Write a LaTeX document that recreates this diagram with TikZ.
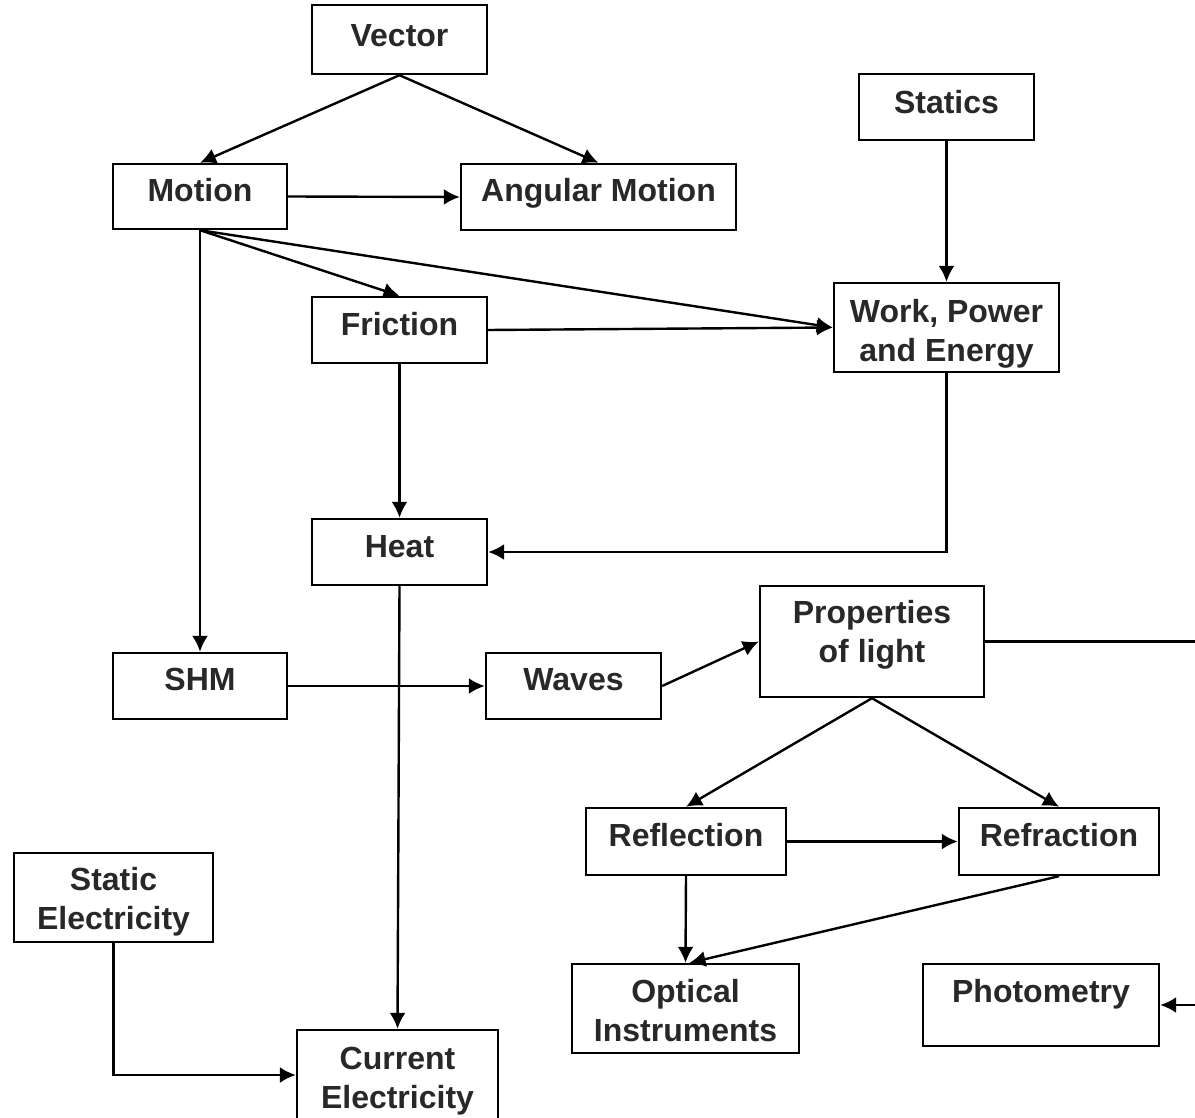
\documentclass[tikz,border=0pt]{standalone}
\usepackage{fontspec}
\setmainfont{Liberation Sans}
\usetikzlibrary{arrows.meta}
\definecolor{txtc}{RGB}{40,40,40}
\begin{document}
\begin{tikzpicture}[x=0.5pt,y=-0.5pt,
  box/.style={draw=black, line width=1.2pt, fill=white, inner sep=0pt},
  txt/.style={inner sep=0pt, align=center, text height=11.5pt, text depth=0pt,
    font=\fontsize{16}{19.5}\selectfont\bfseries, text=txtc},
  conn/.style={line width=1.2pt, -{Latex[length=8pt,width=8pt]}},
  plain/.style={line width=1.2pt}]
\useasboundingbox (0,0) rectangle (1195,1118);
% boxes
\node[box, minimum width=87.5pt, minimum height=34.5pt] (vector) at (399.5,39.5) {};
\node[box, minimum width=87.5pt, minimum height=33pt] (statics) at (946.5,107) {};
\node[box, minimum width=87pt, minimum height=32.5pt] (motion) at (200,196.5) {};
\node[box, minimum width=137.5pt, minimum height=33pt] (angular) at (598.5,197) {};
\node[box, minimum width=87.5pt, minimum height=33pt] (friction) at (399.5,330) {};
\node[box, minimum width=112.5pt, minimum height=44.5pt] (wpe) at (946.5,327.5) {};
\node[box, minimum width=87.5pt, minimum height=33pt] (heat) at (399.5,552) {};
\node[box, minimum width=112pt, minimum height=55.5pt] (light) at (872,641.5) {};
\node[box, minimum width=87pt, minimum height=33pt] (shm) at (200,686) {};
\node[box, minimum width=87.5pt, minimum height=33pt] (waves) at (573.5,686) {};
\node[box, minimum width=100pt, minimum height=33.5pt] (reflection) at (686,841.5) {};
\node[box, minimum width=100pt, minimum height=33.5pt] (refraction) at (1059,841.5) {};
\node[box, minimum width=99.5pt, minimum height=44.5pt] (static) at (113.5,897.5) {};
\node[box, minimum width=113.5pt, minimum height=44.5pt] (optical) at (685.5,1008.5) {};
\node[box, minimum width=118pt, minimum height=41pt] (photo) at (1041,1005) {};
\node[box, minimum width=100.5pt, minimum height=45pt] (current) at (397.5,1075) {};
% texts
\node[txt] (vectort) at (399.5,35) {Vector};
\node[txt] (staticst) at (946.5,102) {Statics};
\node[txt] (motiont) at (200,190) {Motion};
\node[txt] (angulart) at (598.5,190) {Angular Motion};
\node[txt] (frictiont) at (399.5,324) {Friction};
\node[txt] (wpet) at (946.5,350) {Work, Power\\and Energy};
\node[txt] (heatt) at (399.5,546) {Heat};
\node[txt] (lightt) at (872,651) {Properties\\of light};
\node[txt] (shmt) at (200,679) {SHM};
\node[txt] (wavest) at (573.5,679) {Waves};
\node[txt] (reflectiont) at (686,835) {Reflection};
\node[txt] (refractiont) at (1059,835) {Refraction};
\node[txt] (statict) at (113.5,918) {Static\\Electricity};
\node[txt] (opticalt) at (685.5,1030) {Optical\\Instruments};
\node[txt] (photot) at (1041,991) {Photometry};
\node[txt] (currentt) at (397.5,1097) {Current\\Electricity};
\coordinate (edgeA) at (1205,641.5);
\coordinate (edgeB) at (1205,1005);
% connectors
\draw[conn] (vector.south) -- (motion.north);
\draw[conn] (vector.south) -- (angular.north);
\draw[conn] (motion.east) -- (angular.west);
\draw[conn] (motion.south) -- (friction.north);
\draw[conn] (motion.south) -- (wpe.west);
\draw[conn] (friction.east) -- (wpe.west);
\draw[conn] (motion.south) -- (shm.north);
\draw[conn] (statics.south) -- (wpe.north);
\draw[conn] (friction.south) -- (heat.north);
\draw[conn] (wpe.south) |- (heat.east);
\draw[conn] (heat.south) -- (current.north);
\draw[conn] (shm.east) -- (waves.west);
\draw[conn] (waves.east) -- (light.west);
\draw[plain] (light.east) -- (edgeA) -- (edgeB);
\draw[conn] (edgeB) -- (photo.east);
\draw[conn] (light.south) -- (reflection.north);
\draw[conn] (light.south) -- (refraction.north);
\draw[conn] (reflection.east) -- (refraction.west);
\draw[conn] (reflection.south) -- (optical.north);
\draw[conn] (refraction.south) -- ([xshift=2pt]optical.north);
\draw[conn] (static.south) |- (current.west);
\end{tikzpicture}
\end{document}
